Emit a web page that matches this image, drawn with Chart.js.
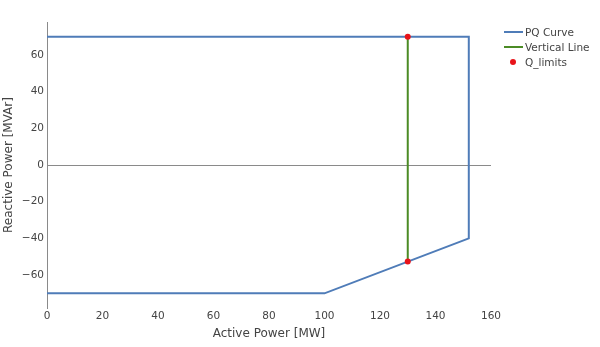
<!DOCTYPE html>
<html>
<head>
<meta charset="utf-8">
<script src="https://cdn.jsdelivr.net/npm/chart.js@4"></script>
<style>
  html, body { margin: 0; padding: 0; background: #fff; }
  #wrap { width: 600px; height: 347px; }
</style>
</head>
<body>
<div id="wrap"><canvas id="pqChart" width="600" height="347"></canvas></div>
<script>
// PQ capability curve of the unit
const pqP = [0, 152, 152, 100, 0];
const pqQ = [70, 70, -40, -70, -70];

// Vertical line at the operating active power
const vlineP = [130, 130];
const vlineQ = [70, -52.7];

// Reactive power limits at that active power
const qLimitP = [130, 130];
const qLimitQ = [70, -52.7];

const seriesNames = ['PQ Curve', 'Vertical Line', 'Q_limits'];
const xTicks = [0, 20, 40, 60, 80, 100, 120, 140, 160];
const yTicks = [-60, -40, -20, 0, 20, 40, 60];

const toPoints = (xs, ys) => xs.map((x, i) => ({ x: x, y: ys[i] }));

const FONT = 'DejaVu Sans, Verdana, sans-serif';
const TEXT = '#444';

// simple plotly-like legend on the right side
const sideLegend = {
    id: 'sideLegend',
    afterDraw(chart) {
        const ctx = chart.ctx;
        ctx.save();
        ctx.font = '10.5px ' + FONT;
        ctx.fillStyle = TEXT;
        ctx.textBaseline = 'middle';
        chart.data.datasets.forEach((ds, i) => {
            const y = 32 + i * 15;
            if (ds.showLine) {
                ctx.strokeStyle = ds.borderColor;
                ctx.lineWidth = 2;
                ctx.beginPath();
                ctx.moveTo(504, y);
                ctx.lineTo(523, y);
                ctx.stroke();
            } else {
                ctx.fillStyle = ds.backgroundColor;
                ctx.beginPath();
                ctx.arc(513, y, 3, 0, Math.PI * 2);
                ctx.fill();
                ctx.fillStyle = TEXT;
            }
            ctx.fillText(ds.label, 525, y + 1);
        });
        ctx.restore();
    }
};

const ctx = document.getElementById('pqChart').getContext('2d');
const pqChart = new Chart(ctx, {
    type: 'scatter',
    data: {
        datasets: [
            {
                label: seriesNames[0],
                data: toPoints(pqP, pqQ),
                showLine: true,
                borderColor: '#4f7cb8',
                borderWidth: 2,
                pointRadius: 0,
                fill: false,
                order: 3
            },
            {
                label: seriesNames[1],
                data: toPoints(vlineP, vlineQ),
                showLine: true,
                borderColor: '#4b8b25',
                borderWidth: 2,
                pointRadius: 0,
                fill: false,
                order: 2
            },
            {
                label: seriesNames[2],
                data: toPoints(qLimitP, qLimitQ),
                showLine: false,
                backgroundColor: '#e8131a',
                borderColor: '#e8131a',
                pointRadius: 3,
                borderWidth: 0,
                order: 1
            }
        ]
    },
    options: {
        responsive: false,
        animation: false,
        layout: { padding: { top: 22, right: 109, bottom: 0, left: 0 } },
        plugins: {
            legend: { display: false },
            tooltip: { enabled: false }
        },
        scales: {
            x: {
                type: 'linear',
                min: 0,
                max: 160,
                afterBuildTicks: s => { s.ticks = xTicks.map(v => ({ value: v })); },
                afterFit: s => { s.height = 39; },
                grid: { display: false, drawTicks: false },
                border: { display: false },
                ticks: {
                    padding: 2,
                    color: TEXT,
                    font: { family: FONT, size: 10.5 },
                    maxRotation: 0
                },
                title: {
                    display: true,
                    text: 'Active Power [MW]',
                    color: TEXT,
                    font: { family: FONT, size: 12 },
                    padding: { top: 0, bottom: 6 }
                }
            },
            y: {
                type: 'linear',
                min: -78,
                max: 78,
                afterBuildTicks: s => { s.ticks = yTicks.map(v => ({ value: v })); },
                afterFit: s => { s.width = 47; },
                grid: {
                    drawTicks: false,
                    color: c => (c.tick && c.tick.value === 0 ? '#8a8a8a' : 'rgba(0,0,0,0)'),
                    lineWidth: 1
                },
                border: { display: true, color: '#8a8a8a', width: 1 },
                ticks: {
                    padding: 3,
                    color: TEXT,
                    font: { family: FONT, size: 10.5 },
                    callback: v => String(v).replace('-', '\u2212')
                },
                title: {
                    display: true,
                    text: 'Reactive Power [MVAr]',
                    color: TEXT,
                    font: { family: FONT, size: 12 },
                    padding: { top: 2, bottom: 0 }
                }
            }
        }
    },
    plugins: [sideLegend]
});
</script>
</body>
</html>
